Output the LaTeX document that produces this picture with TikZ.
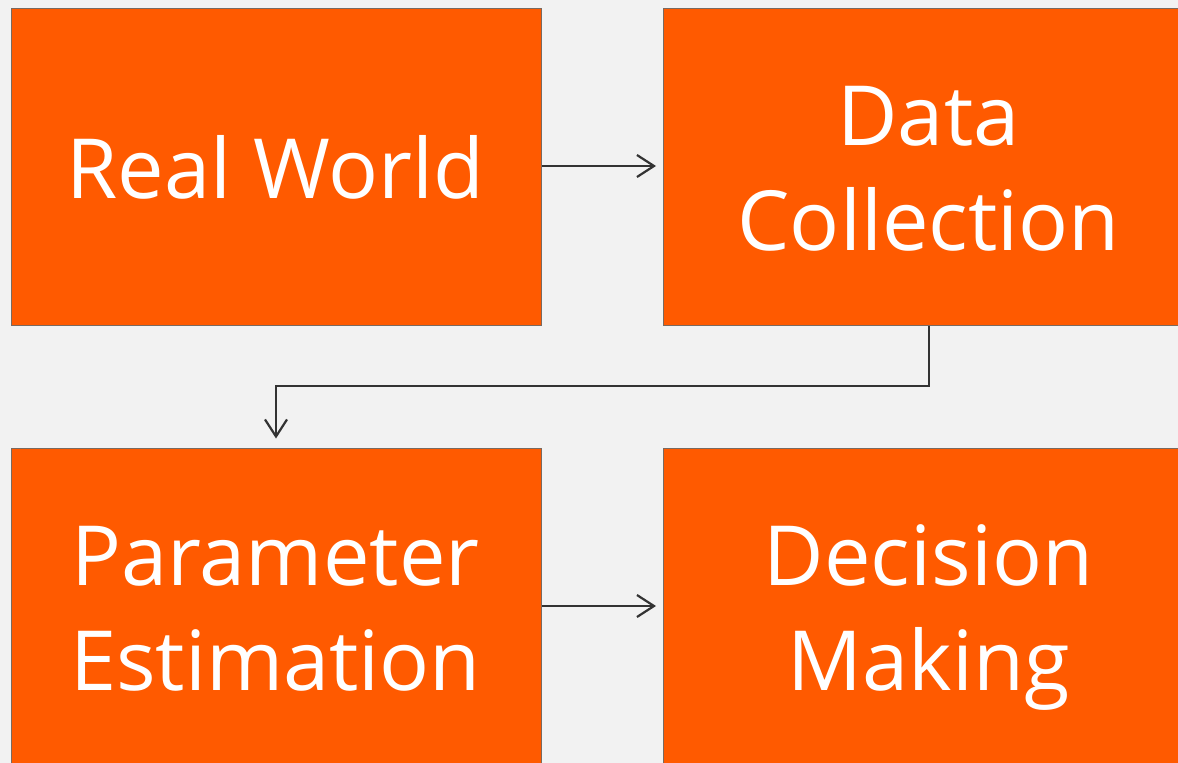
\documentclass[tikz,border=0pt]{standalone}
\usepackage{fontspec}
\setmainfont{Open Sans}
\usetikzlibrary{arrows.meta}
\definecolor{pagebg}{HTML}{F2F2F2}
\definecolor{boxfill}{HTML}{FF5A00}
\definecolor{boxedge}{HTML}{7A6A60}
\definecolor{linkcol}{HTML}{333333}
\tikzset{
  stage/.style={rectangle, fill=boxfill, draw=boxedge, line width=1pt,
    minimum width=530.5pt, minimum height=317pt, inner sep=0pt, anchor=north west},
  caption/.style={text=white, font=\fontsize{83}{100}\selectfont, anchor=base, inner sep=0pt},
  link/.style={draw=linkcol, line width=2.2pt,
    -{Straight Barb[length=17pt,width=22pt]}, shorten >=7pt}
}
\begin{document}
\begin{tikzpicture}[x=1pt,y=-1pt]
  \fill[pagebg] (0,0) rectangle (1178,763);
  \useasboundingbox (0,0) rectangle (1178,763);

  \node[stage] (real) at (10.5,7.5) {};
  \node[stage] (data) at (663,7.5) {};
  \node[stage] (param) at (10.5,447.5) {};
  \node[stage] (decide) at (663,447.5) {};

  \node[caption] (realtxt) at (275.5,198) {Real World};
  \node[caption] (datatxt1) at (928.5,145) {Data};
  \node[caption] (datatxt2) at (928.5,250) {Collection};
  \node[caption] (paramtxt1) at (275.5,585) {Parameter};
  \node[caption] (paramtxt2) at (275.5,690) {Estimation};
  \node[caption] (decidetxt1) at (928.5,585) {Decision};
  \node[caption] (decidetxt2) at (928.5,690) {Making};

  \coordinate (bendA) at (929,386);
  \coordinate (bendB) at (276,386);

  \draw[link] (real.east |- 0,166) -- (data.west |- 0,166);
  \draw[link, shorten >=9pt] (data.south -| bendA) -- (bendA) -- (bendB) -- (param.north -| bendB);
  \draw[link] (param.east |- 0,606) -- (decide.west |- 0,606);
\end{tikzpicture}
\end{document}
